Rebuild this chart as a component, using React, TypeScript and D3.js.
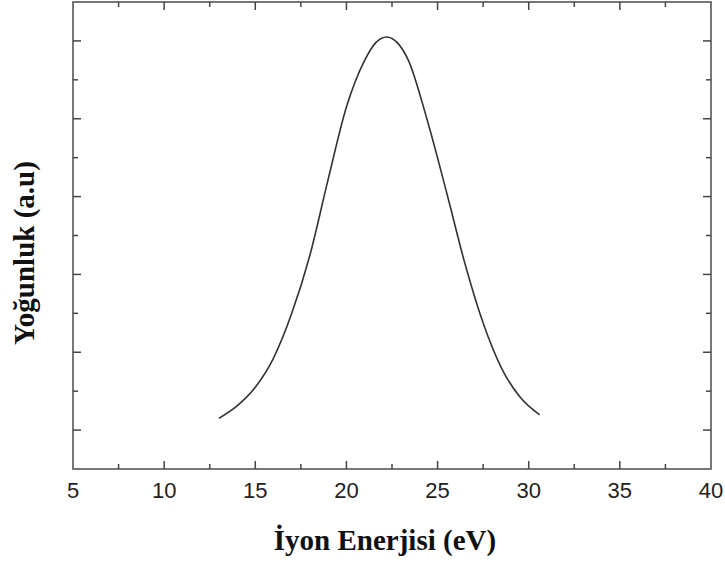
import { useEffect, useRef } from 'react';
import * as d3 from 'd3';

// curve (energy eV, intensity a.u.)
const energy = [13.0, 14.0, 15.0, 16.0, 17.0, 18.0, 19.0, 20.0, 21.0, 21.6, 22.2, 22.8, 23.4, 24.4, 25.5, 26.5, 27.5, 28.5, 29.5, 30.6];
const intensity = [1.3, 1.62, 2.1, 2.85, 4.0, 5.5, 7.45, 9.3, 10.5, 10.95, 11.1, 10.95, 10.5, 9.02, 7.1, 5.28, 3.75, 2.6, 1.86, 1.39];
const xTicks = [5, 10, 15, 20, 25, 30, 35, 40];
const xMinor = [7.5, 12.5, 17.5, 22.5, 27.5, 32.5, 37.5];
const yMajor = [1, 3, 5, 7, 9, 11];
const yMinor = [2, 4, 6, 8, 10];

const xTitle = 'İyon Enerjisi (eV)';
const yTitle = 'Yoğunluk (a.u)';

export default function App() {
  const svgRef = useRef<SVGSVGElement>(null);

  useEffect(() => {
    const svg = d3.select(svgRef.current);
    svg.selectAll('*').remove();

    const left = 73, right = 711, top = 2, bottom = 469;
    const x = d3.scaleLinear().domain([5, 40]).range([left, right]);
    const y = d3.scaleLinear().domain([0, 12]).range([bottom, top]);

    const g = svg.append('g');

    // frame
    g.append('rect')
      .attr('x', left).attr('y', top)
      .attr('width', right - left).attr('height', bottom - top)
      .attr('fill', 'none').attr('stroke', '#555').attr('stroke-width', 1.6);

    const tickStroke = '#444';
    // x ticks bottom + top
    const xt = (vals: number[], len: number) => {
      vals.forEach(v => {
        g.append('line').attr('x1', x(v)).attr('x2', x(v)).attr('y1', bottom).attr('y2', bottom - len)
          .attr('stroke', tickStroke).attr('stroke-width', 1.5);
        g.append('line').attr('x1', x(v)).attr('x2', x(v)).attr('y1', top).attr('y2', top + len)
          .attr('stroke', tickStroke).attr('stroke-width', 1.5);
      });
    };
    xt(xTicks.slice(1, -1), 8);
    xt(xMinor, 5);

    const yt = (vals: number[], len: number) => {
      vals.forEach(v => {
        g.append('line').attr('y1', y(v)).attr('y2', y(v)).attr('x1', left).attr('x2', left + len)
          .attr('stroke', tickStroke).attr('stroke-width', 1.5);
        g.append('line').attr('y1', y(v)).attr('y2', y(v)).attr('x1', right).attr('x2', right - len)
          .attr('stroke', tickStroke).attr('stroke-width', 1.5);
      });
    };
    yt(yMajor, 8);
    yt(yMinor, 5);

    // tick labels
    g.append('g').selectAll('text').data(xTicks).join('text')
      .attr('x', d => x(d)).attr('y', 498)
      .attr('text-anchor', 'middle')
      .style('font-family', '"Liberation Sans", Arial, sans-serif')
      .style('font-size', '22px').style('fill', '#222')
      .text(d => d);

    // curve
    const pts = energy.map((e, i) => [e, intensity[i]] as [number, number]);
    const line = d3.line<[number, number]>().x(d => x(d[0])).y(d => y(d[1])).curve(d3.curveMonotoneX);
    g.append('path').datum(pts)
      .attr('d', line)
      .attr('fill', 'none').attr('stroke', '#333').attr('stroke-width', 1.6);

    // titles
    g.append('text')
      .attr('x', 385).attr('y', 550)
      .attr('text-anchor', 'middle')
      .style('font-family', '"Liberation Serif", "Times New Roman", serif')
      .style('font-weight', 'bold').style('font-size', '29px').style('fill', '#111')
      .text(xTitle);

    g.append('text')
      .attr('transform', 'translate(34,253) rotate(-90)')
      .attr('text-anchor', 'middle')
      .style('font-family', '"Liberation Serif", "Times New Roman", serif')
      .style('font-weight', 'bold').style('font-size', '29px').style('fill', '#111')
      .text(yTitle);
  }, []);

  return (
    <div style={{ position: 'absolute', left: 0, top: 0 }}>
      <svg ref={svgRef} width={725} height={562} style={{ display: 'block', background: '#fff' }} />
    </div>
  );
}
